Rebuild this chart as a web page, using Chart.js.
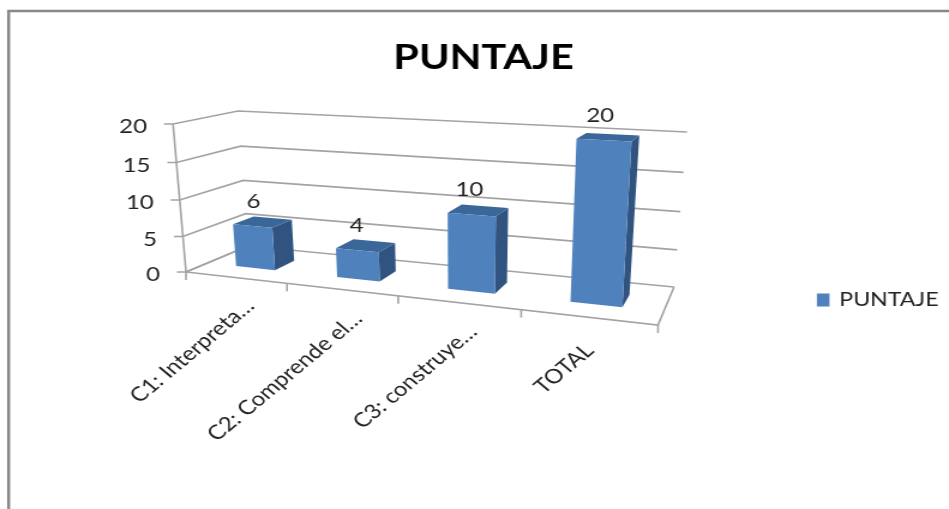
<!DOCTYPE html>
<html>
<head>
<meta charset="utf-8">
<style>
html,body{margin:0;padding:0;background:#fff;overflow:hidden;width:949px;height:509px}
#wrap{position:absolute;left:0;top:0;width:791px;height:509px;transform:scaleX(1.1997);transform-origin:0 0}
canvas{display:block}
</style>
<script src="https://cdn.jsdelivr.net/npm/chart.js@4"></script>
</head>
<body>
<div id="wrap"><canvas id="c" width="791" height="509"></canvas></div>
<script>
const categories = ["C1: Interpreta…", "C2: Comprende el…", "C3: construye…", "TOTAL"];
const seriesName = "PUNTAJE";
const seriesValues = [6, 4, 10, 20];
const axisMin = 0, axisMax = 20, axisStep = 5;

const SX = 1.1997;
const FONT = "Lato";
const C_FRONT = "#4F81BD", C_TOP = "#3A6698", C_SIDE = "#30547F", C_GRID = "#A3A3A3", C_TEXT = "#222222";
const DEPTH0 = 0.32, DEPTH1 = 0.66;
const labelShift = [[0,1],[2,2],[0,2],[-13,6]];

// view box: screen corners of the floor and of the top plane (front-left, front-right, back-right, back-left)
const floorQuad = [[186,272],[658,325],[674,287],[248,246]];
const topQuad = [[173,124],[669,150],[687,132],[238,111]];
const uBend = -0.01, uBendTop = 0.06, vBend = 0.056;

function homography(q){
  const [[x0,y0],[x1,y1],[x2,y2],[x3,y3]] = q;
  const dx1=x1-x2, dx2=x3-x2, dx3=x0-x1+x2-x3, dy1=y1-y2, dy2=y3-y2, dy3=y0-y1+y2-y3;
  const den=dx1*dy2-dx2*dy1;
  const g=(dx3*dy2-dx2*dy3)/den, h=(dx1*dy3-dx3*dy1)/den;
  const a=x1-x0+g*x1, b=x3-x0+h*x3, c=x0, d=y1-y0+g*y1, e=y3-y0+h*y3, f=y0;
  return (u,w)=>{const z=g*u+h*w+1; return [(a*u+b*w+c)/z,(d*u+e*w+f)/z];};
}
const Hf = homography(floorQuad), Ht = homography(topQuad);
function P(u,v,w){
  const uu=u-uBend*u*(1-u), vv=v-vBend*v*(1-v);
  const f=Hf(uu,w), t=Ht(uu-uBendTop*u*(1-u),w);
  return [(f[0]+(t[0]-f[0])*vv)/SX, f[1]+(t[1]-f[1])*vv];
}

function poly(ctx,pts,fill){
  ctx.beginPath(); pts.forEach((p,i)=>i?ctx.lineTo(p[0],p[1]):ctx.moveTo(p[0],p[1])); ctx.closePath();
  ctx.fillStyle=fill; ctx.fill();
}
function line(ctx,pts){
  ctx.beginPath(); pts.forEach((p,i)=>i?ctx.lineTo(p[0],p[1]):ctx.moveTo(p[0],p[1])); ctx.stroke();
}

const scene = {
  id:"scene",
  afterLayout(chart){
    const lg=chart.legend, tb=chart.titleBlock;
    const w=lg.right-lg.left;
    lg.left=680.9; lg.right=680.9+w; lg.top=289; lg.bottom=311;
    tb.left=15; tb.right=791;
  },
  beforeDraw(chart){
    const ctx=chart.ctx;
    ctx.save(); ctx.strokeStyle="#888888"; ctx.lineWidth=2.5;
    line(ctx,[[7.2,509],[7.2,11],[791,11]]);
    ctx.restore();
  },
  beforeDatasetsDraw(chart){
    const ctx=chart.ctx, ys=chart.scales.y, xs=chart.scales.x;
    const vOf=val=>(ys.bottom-ys.getPixelForValue(val))/(ys.bottom-ys.top);
    ctx.save();
    ctx.strokeStyle=C_GRID; ctx.lineWidth=1.6;
    ys.ticks.forEach(t=>{
      const v=vOf(t.value);
      const f=P(0,v,0), b=P(0,v,1), r=P(1,v,1);
      line(ctx,[[f[0]-9/SX,f[1]],f,b,r]);
      ctx.fillStyle=C_TEXT; ctx.font="20px "+FONT; ctx.textAlign="right"; ctx.textBaseline="middle";
      ctx.fillText(String(t.value),f[0]-26/SX,f[1]+2.5);
    });
    line(ctx,[P(0,0,0),P(0,1,0)]);
    line(ctx,[P(0,0,0),P(1,0,0),P(1,0,1)]);
    line(ctx,[P(0,0,0),P(0,0,1)]);
    xs.ticks.forEach((t,i)=>{
      const left=(xs.getPixelForValue(i)-xs.width/xs.ticks.length/2-xs.left)/xs.width;
      const q=P(left,0,0); line(ctx,[q,[q[0],q[1]+8]]);
      const cx=(xs.getPixelForValue(i)-xs.left)/xs.width;
      const c=P(cx,0,0);
      ctx.save();
      ctx.translate(c[0]+(15+labelShift[i][0])/SX,c[1]+24+labelShift[i][1]);
      ctx.rotate(-Math.PI/4);
      ctx.fillStyle=C_TEXT; ctx.font="20px "+FONT; ctx.textAlign="right"; ctx.textBaseline="middle";
      ctx.fillText(xs.getLabelForValue(i),0,0);
      ctx.restore();
    });
    const e=P(1,0,0); line(ctx,[e,[e[0],e[1]+8]]);
    ctx.restore();
  },
  beforeDatasetDraw(chart,args){
    const ctx=chart.ctx, A=chart.chartArea, ys=chart.scales.y;
    const ds=chart.data.datasets[args.index];
    args.meta.data.forEach((el,i)=>{
      const cu=(el.x-A.left)/(A.right-A.left);
      const u0=(el.x-el.width/2-A.left)/(A.right-A.left), u1=(el.x+el.width/2-A.left)/(A.right-A.left);
      const v=(el.base-el.y)/(ys.bottom-ys.top);
      const a=P(u0,0,DEPTH0), b=P(u1,0,DEPTH0), c=P(u1,v,DEPTH0), d=P(u0,v,DEPTH0);
      const b2=P(u1,0,DEPTH1), c2=P(u1,v,DEPTH1), d2=P(u0,v,DEPTH1);
      poly(ctx,[b,b2,c2,c],C_SIDE);
      poly(ctx,[d,c,c2,d2],C_TOP);
      poly(ctx,[a,b,c,d],C_FRONT);
      ctx.fillStyle=C_TEXT; ctx.font="20px "+FONT; ctx.textAlign="center"; ctx.textBaseline="middle";
      ctx.fillText(String(ds.data[i]),(c[0]+d[0])/2+(1.5-6*cu)/SX,(c[1]+d[1])/2-25);
    });
    return false;
  }
};

new Chart(document.getElementById("c"),{
  type:"bar",
  data:{labels:categories,datasets:[{label:seriesName,data:seriesValues,backgroundColor:C_FRONT,borderColor:C_FRONT,borderWidth:3,categoryPercentage:1,barPercentage:0.395}]},
  plugins:[scene],
  options:{
    responsive:false,animation:false,
    layout:{padding:0},
    scales:{
      x:{display:false},
      y:{display:false,min:axisMin,max:axisMax,ticks:{stepSize:axisStep}}
    },
    plugins:{
      title:{display:true,text:seriesName,color:"#000",font:{family:FONT,size:34.5,weight:"bold"},padding:{top:37,bottom:10}},
      legend:{display:true,position:"right",labels:{color:C_TEXT,font:{family:FONT,size:19.3},boxWidth:9,boxHeight:10,padding:0}},
      tooltip:{enabled:false}
    }
  }
});
</script>
</body>
</html>
